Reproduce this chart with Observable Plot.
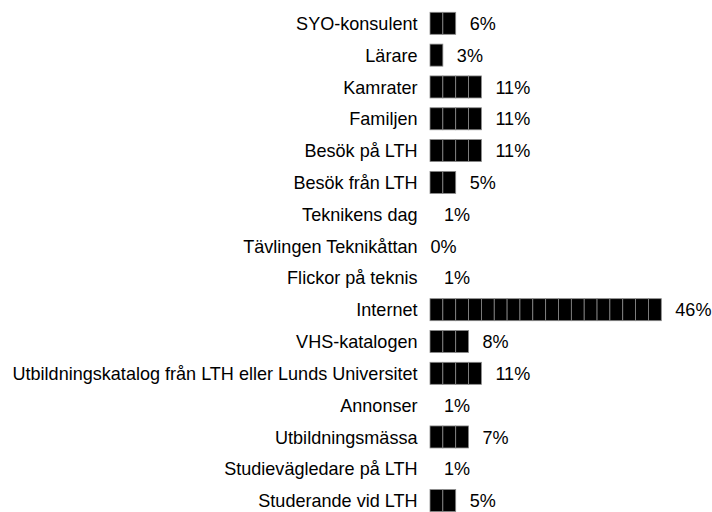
<!DOCTYPE html>
<html>
<head>
<meta charset="utf-8">
<script src="https://cdn.jsdelivr.net/npm/d3@7"></script>
<script src="https://cdn.jsdelivr.net/npm/@observablehq/plot@0.6"></script>
<style>
  html, body { margin: 0; padding: 0; background: #fff; }
</style>
</head>
<body>
<div id="chart"></div>
<script>
const categories = [
  "SYO-konsulent",
  "Lärare",
  "Kamrater",
  "Familjen",
  "Besök på LTH",
  "Besök från LTH",
  "Teknikens dag",
  "Tävlingen Teknikåttan",
  "Flickor på teknis",
  "Internet",
  "VHS-katalogen",
  "Utbildningskatalog från LTH eller Lunds Universitet",
  "Annonser",
  "Utbildningsmässa",
  "Studievägledare på LTH",
  "Studerande vid LTH"
];
const percents = [6, 3, 11, 11, 11, 5, 1, 0, 1, 46, 8, 11, 1, 7, 1, 5];
const blockCounts = [2, 1, 4, 4, 4, 2, 0, 0, 0, 18, 3, 4, 0, 3, 0, 2];

const rows = categories.map((c, i) => ({category: c, pct: percents[i], blocks: blockCounts[i]}));
const blocks = rows.flatMap(r => d3.range(r.blocks).map(k => ({category: r.category, x1: k, x2: k + 1})));

const font = "'Liberation Sans', Arial, sans-serif";
const fs = 19;

const chart = Plot.plot({
  width: 712,
  height: 512,
  marginLeft: 430,
  marginRight: 25,
  marginTop: 7.4,
  marginBottom: -4.5,
  style: {fontFamily: font, fontSize: fs + "px", color: "#000", background: "#fff"},
  x: {domain: [0, 20], axis: null},
  y: {domain: categories, padding: 0, round: false, label: null},
  marks: [
    Plot.axisY({tickSize: 0, tickPadding: 13, fontSize: fs, label: null, fill: "#000"}),
    Plot.barX(blocks, {
      x1: "x1", x2: "x2", y: "category",
      fill: "#000", stroke: "#8a8a8a", strokeWidth: 0.8,
      insetTop: 4.9, insetBottom: 4.9
    }),
    Plot.text(rows.filter(r => r.pct > 0), {
      x: "blocks", y: "category", text: r => r.pct + "%",
      textAnchor: "start", dx: 13.5, fontSize: fs, fill: "#000"
    }),
    Plot.text(rows.filter(r => r.pct === 0), {
      x: "blocks", y: "category", text: r => r.pct + "%",
      textAnchor: "start", dx: 0, fontSize: fs, fill: "#000"
    })
  ]
});
document.getElementById("chart").appendChild(chart);
// condense glyphs horizontally to mimic the narrow typeface of the reference
chart.querySelectorAll("text").forEach(t => {
  const w = t.getComputedTextLength();
  if (w > 0) {
    t.setAttribute("textLength", (w * 0.95).toFixed(2));
    t.setAttribute("lengthAdjust", "spacingAndGlyphs");
  }
});
</script>
</body>
</html>
